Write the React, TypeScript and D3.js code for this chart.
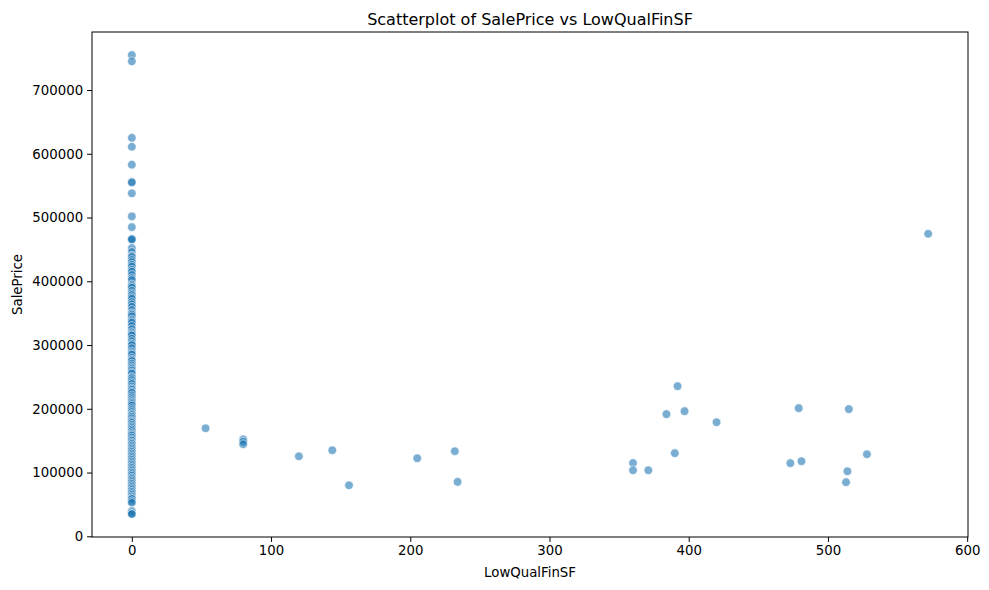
import { useRef, useEffect } from 'react';
import * as d3 from 'd3';

// houses with LowQualFinSF > 0
const lowQualX = [53, 80, 80, 80, 120, 144, 156, 205, 232, 234, 360, 360, 371, 384, 390, 392, 397, 420, 473, 479, 481, 513, 514, 515, 528, 572];
const lowQualPrice = [169500, 152000, 148500, 144500, 125500, 135000, 80000, 122500, 133500, 85400, 115000, 103600, 103600, 191600, 130400, 235500, 196300, 179000, 114700, 201000, 117800, 84900, 102100, 199500, 128800, 474500];

// houses with LowQualFinSF = 0 (sale prices)
const zeroPrice = [
  755000, 745000, 625000, 611000, 582900, 556000, 555000, 538000, 501800, 485000,
  466500, 465000, 466000, 452000, 446000, 440000, 438000, 433500, 430000, 426000,
  423000, 418000, 415000, 410000, 405000, 402000, 395000, 392500, 390000, 385000,
  381000, 378500, 375000, 372500, 367500, 364000, 360000, 355000, 350000, 348000,
  345000, 340000, 337500, 335000, 330000, 325000, 320000, 317000, 315000, 310000,
  306000, 302000, 299800, 295000, 290000, 287000, 285000, 280000, 277000, 275000,
  271000, 268000, 265000, 262500, 260000, 257000, 255000, 250000, 248000, 245000,
  241500, 239000, 235000, 232000, 230000, 227000, 225000, 221000, 218000, 215000,
  212000, 210000, 207500, 205000, 201000, 198000, 195000, 192000, 190000, 187500,
  185000, 182000, 180000, 178000, 175000, 172500, 170000, 167500, 165000, 162000,
  160000, 158000, 155000, 152000, 150000, 147000, 145000, 142500, 140000, 137500,
  135000, 132500, 130000, 127500, 125000, 122500, 120000, 117500, 115000, 112500,
  110000, 107500, 105000, 102500, 100000, 97500, 95000, 92000, 90000, 87500,
  85000, 82500, 80000, 77500, 75000, 72500, 70000, 67500, 65000, 62500,
  60000, 58500, 55000, 52500, 40000, 37900, 35311, 34900
];

const xTicks = [0, 100, 200, 300, 400, 500, 600];
const yTicks = [0, 100000, 200000, 300000, 400000, 500000, 600000, 700000];

const W = 989;
const H = 590;

export default function App() {
  const svgRef = useRef<SVGSVGElement>(null);

  useEffect(() => {
    if (!svgRef.current) return;
    const svg = d3.select(svgRef.current);
    svg.selectAll('*').remove();

    const margin = { top: 32, right: 21, bottom: 53, left: 92 };
    const innerW = W - margin.left - margin.right;
    const innerH = H - margin.top - margin.bottom;
    const font = 'DejaVu Sans, sans-serif';

    const points = [
      ...zeroPrice.map(p => ({ x: 0, y: p })),
      ...lowQualX.map((x, i) => ({ x, y: lowQualPrice[i] }))
    ];

    const xMax = d3.max(points, d => d.x) as number;
    const [yMin, yMax] = d3.extent(points, d => d.y) as [number, number];
    const xPad = xMax * 0.05;
    const yPad = (yMax - yMin) * 0.05;

    const x = d3.scaleLinear().domain([0 - xPad, xMax + xPad]).range([0, innerW]);
    const y = d3.scaleLinear().domain([yMin - yPad, yMax + yPad]).range([innerH, 0]);

    const g = svg.append('g').attr('transform', `translate(${margin.left},${margin.top})`);

    g.append('g')
      .selectAll('circle')
      .data(points)
      .join('circle')
      .attr('cx', d => x(d.x))
      .attr('cy', d => y(d.y))
      .attr('r', 4.3)
      .attr('fill', '#1f77b4')
      .attr('fill-opacity', 0.6)
      .attr('stroke', '#ffffff')
      .attr('stroke-opacity', 0.6)
      .attr('stroke-width', 1);

    // frame
    g.append('rect')
      .attr('width', innerW)
      .attr('height', innerH)
      .attr('fill', 'none')
      .attr('stroke', '#000')
      .attr('stroke-width', 1);

    const xAxis = g.append('g')
      .attr('transform', `translate(0,${innerH})`)
      .call(d3.axisBottom(x).tickValues(xTicks).tickSize(4.9).tickPadding(4).tickFormat(d3.format('d')));
    const yAxis = g.append('g')
      .call(d3.axisLeft(y).tickValues(yTicks).tickSize(4.9).tickPadding(4).tickFormat(d3.format('d')));

    [xAxis, yAxis].forEach(a => {
      a.select('.domain').remove();
      a.selectAll('text').attr('font-family', font).attr('font-size', 13.3).attr('fill', '#000');
      a.selectAll('line').attr('stroke', '#000');
    });

    svg.append('text')
      .attr('x', margin.left + innerW / 2)
      .attr('y', 25)
      .attr('text-anchor', 'middle')
      .attr('font-family', font)
      .attr('font-size', 16)
      .text('Scatterplot of SalePrice vs LowQualFinSF');

    svg.append('text')
      .attr('x', margin.left + innerW / 2)
      .attr('y', 577)
      .attr('text-anchor', 'middle')
      .attr('font-family', font)
      .attr('font-size', 13.3)
      .text('LowQualFinSF');

    svg.append('text')
      .attr('transform', `translate(22,${margin.top + innerH / 2}) rotate(-90)`)
      .attr('text-anchor', 'middle')
      .attr('font-family', font)
      .attr('font-size', 13.3)
      .text('SalePrice');
  }, []);

  return (
    <svg
      ref={svgRef}
      width={W}
      height={H}
      style={{ position: 'absolute', left: 0, top: 0, background: '#fff' }}
    />
  );
}
